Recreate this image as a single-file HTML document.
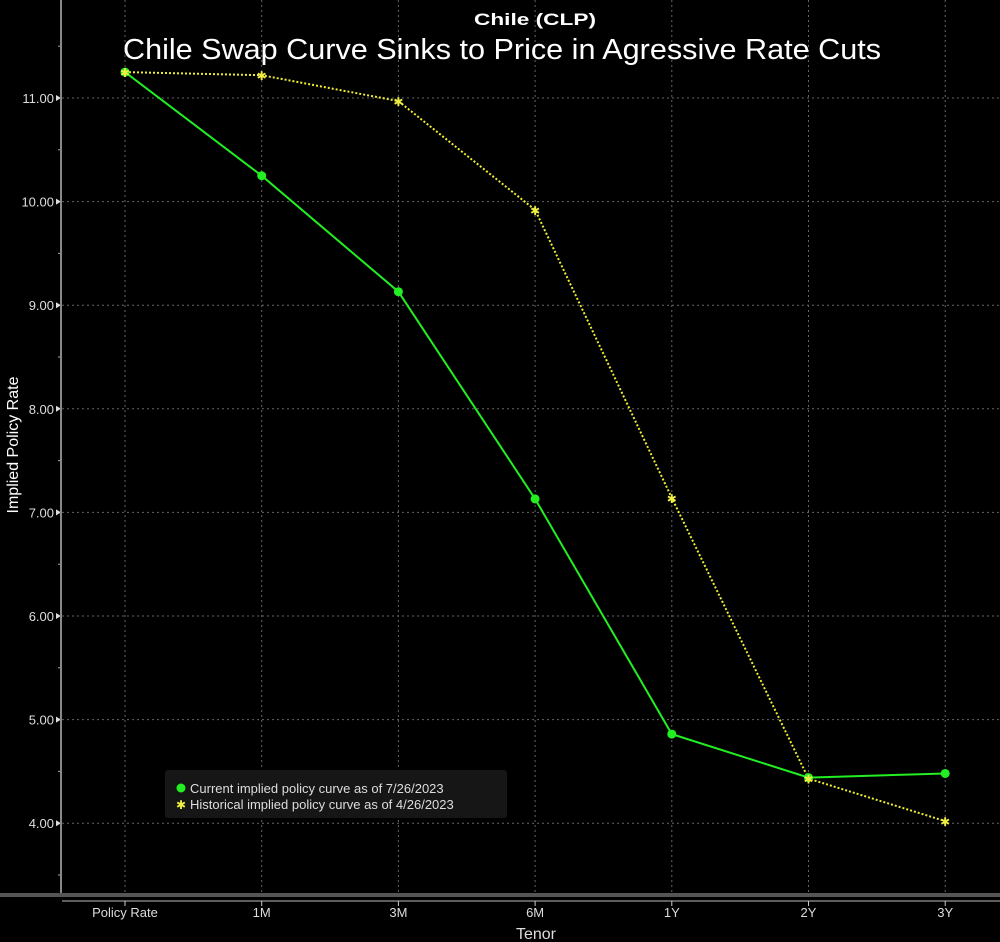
<!DOCTYPE html>
<html><head><meta charset="utf-8"><style>
html,body{margin:0;padding:0;background:#000;}
svg{display:block;font-family:"Liberation Sans",sans-serif;}
</style></head><body>
<svg id="chart" width="1000" height="942" viewBox="0 0 1000 942">
<rect width="1000" height="942" fill="#000"/>
<g id="grid"></g>
<g id="axes"></g>
<text x="474" y="25" fill="#fff" font-size="17" font-weight="bold" textLength="122" lengthAdjust="spacingAndGlyphs">Chile (CLP)</text>
<text x="123" y="59" fill="#fff" font-size="29" textLength="758" lengthAdjust="spacingAndGlyphs">Chile Swap Curve Sinks to Price in Agressive Rate Cuts</text>
<text x="18" y="445" fill="#fff" font-size="16" text-anchor="middle" transform="rotate(-90 18 445)">Implied Policy Rate</text>
<text x="536" y="939" fill="#ddd" font-size="16" text-anchor="middle">Tenor</text>
<g id="series"></g>
<g>
<rect x="165" y="770" width="342" height="48" fill="#161616" rx="3"/>
<circle cx="181" cy="788" r="4.5" fill="#22ee22"/>
<text x="190" y="793" fill="#ddd" font-size="13">Current implied policy curve as of 7/26/2023</text>
<text x="181" y="809" fill="#eeee44" font-size="12" text-anchor="middle">✱</text>
<text x="190" y="809" fill="#ddd" font-size="13">Historical implied policy curve as of 4/26/2023</text>
</g>
</svg>
<script>
const categories=["Policy Rate","1M","3M","6M","1Y","2Y","3Y"];
const currentValues=[11.25,10.25,9.13,7.13,4.86,4.44,4.48];
const historicalValues=[11.25,11.22,10.97,9.92,7.14,4.43,4.02];
const yTicks=[4,5,6,7,8,9,10,11];
const yTickLabels=["4.00","5.00","6.00","7.00","8.00","9.00","10.00","11.00"];
const NS="http://www.w3.org/2000/svg";
function xPos(i){return 125+i*136.7;}
function yPos(v){return 98+(11-v)*103.6;}
function mk(tag,attrs,parent){const e=document.createElementNS(NS,tag);for(const k in attrs)e.setAttribute(k,attrs[k]);parent.appendChild(e);return e;}
const grid=document.getElementById('grid'),axes=document.getElementById('axes'),series=document.getElementById('series');
yTicks.forEach((t,i)=>{
 const l=mk('line',{x1:62,x2:1000,y1:yPos(t),y2:yPos(t),stroke:'#666','stroke-dasharray':'2,3','stroke-width':1},grid);
 
 
 const tx=mk('text',{x:54,y:yPos(t)+5,fill:'#ddd','font-size':13,'text-anchor':'end'},axes);
 tx.textContent=yTickLabels[i];
 
 
 mk('path',{d:`M56 ${yPos(t)-3}L61 ${yPos(t)}L56 ${yPos(t)+3}Z`,fill:'#ddd'},axes);
 mk('line',{x1:58,x2:62,y1:yPos(t+0.5),y2:yPos(t+0.5),stroke:'#aaa'},axes);
});
mk('line',{x1:58,x2:62,y1:yPos(3.5),y2:yPos(3.5),stroke:'#aaa'},axes);
categories.forEach((c,i)=>{
 const l=mk('line',{x1:xPos(i),x2:xPos(i),y1:0,y2:895,stroke:'#666','stroke-dasharray':'2,3','stroke-width':1},grid);
 
 
 mk('line',{x1:xPos(i),x2:xPos(i),y1:901,y2:906,stroke:'#ccc'},axes);
 const tx=mk('text',{x:xPos(i),y:917,fill:'#ddd','font-size':13,'text-anchor':'middle'},axes);
 tx.textContent=c;
 
 
});
const ya=mk('line',{x1:61,x2:61,y1:0,y2:896,stroke:'#888','stroke-width':2},axes);


const xa=mk('line',{x1:0,x2:1000,y1:895,y2:895,stroke:'#555','stroke-width':4},axes);


mk('line',{x1:62,x2:1000,y1:901,y2:901,stroke:'#bbb','stroke-width':1},axes);
const hp=historicalValues.map((v,i)=>xPos(i)+','+yPos(v)).join(' ');
const hl=mk('polyline',{points:hp,fill:'none',stroke:'#eeee33','stroke-width':2,'stroke-dasharray':'2,2'},series);


const cp=currentValues.map((v,i)=>xPos(i)+','+yPos(v)).join(' ');
const cl=mk('polyline',{points:cp,fill:'none',stroke:'#22ee22','stroke-width':2},series);


currentValues.forEach((v,i)=>{
 const c=mk('circle',{cx:xPos(i),cy:yPos(v),r:4.5,fill:'#22ee22'},series);
 
 
});
historicalValues.forEach((v,i)=>{
 const t=mk('text',{x:xPos(i),y:yPos(v)+5,fill:'#eeee44','font-size':12,'text-anchor':'middle'},series);
 t.textContent='✱';
 
 
});
</script>
</body></html>
